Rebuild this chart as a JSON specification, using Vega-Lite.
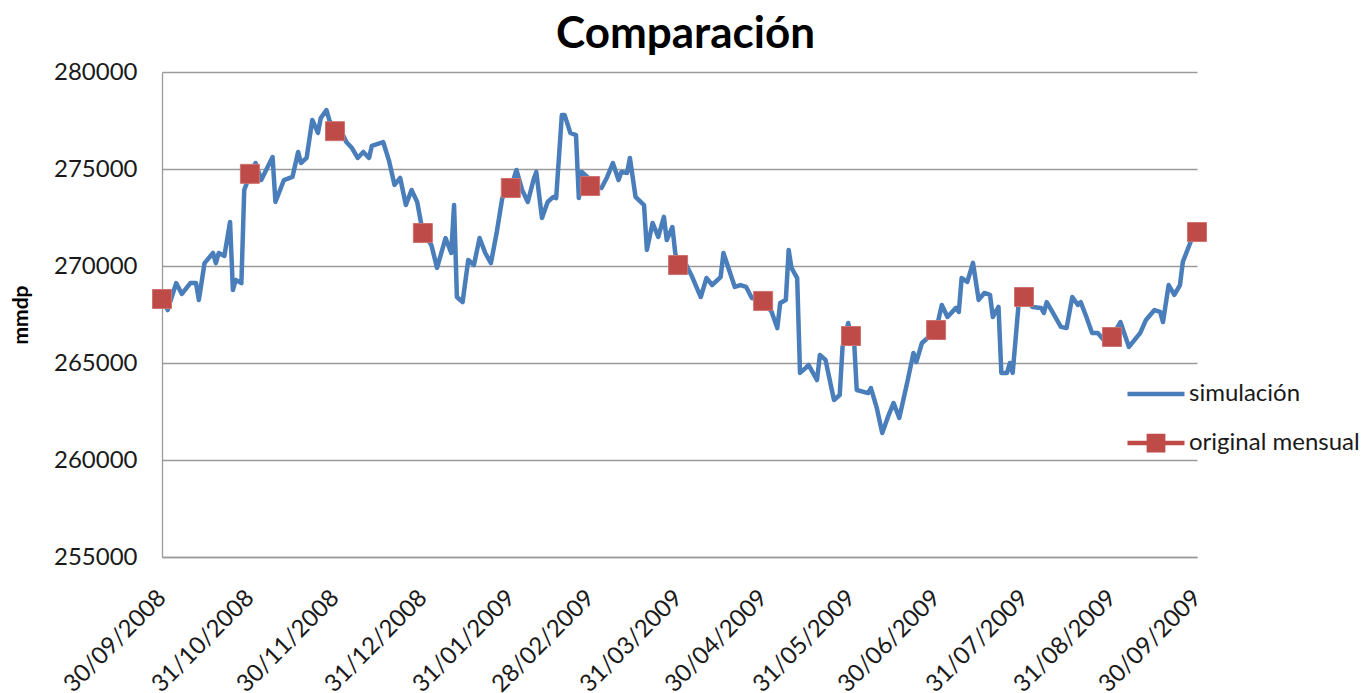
{
  "$schema": "https://vega.github.io/schema/vega-lite/v6.json",
  "width": 1035,
  "height": 485,
  "autosize": {"type": "none"},
  "padding": {"left": 162, "top": 72, "right": 169, "bottom": 136},
  "background": "white",
  "title": {"text": "Comparación", "font": "Lato", "fontSize": 44, "fontWeight": "bold", "color": "#000000", "anchor": "middle", "frame": "group", "offset": 3, "dx": 6},
  "config": {"view": {"stroke": null}, "font": "Lato"},
  "datasets": {
    "sim": [
      {"fecha": "2008-09-30", "valor": 268300},
      {"fecha": "2008-10-02", "valor": 267730},
      {"fecha": "2008-10-05", "valor": 269120},
      {"fecha": "2008-10-07", "valor": 268560},
      {"fecha": "2008-10-10", "valor": 269120},
      {"fecha": "2008-10-12", "valor": 269120},
      {"fecha": "2008-10-13", "valor": 268250},
      {"fecha": "2008-10-15", "valor": 270150},
      {"fecha": "2008-10-18", "valor": 270670},
      {"fecha": "2008-10-19", "valor": 270150},
      {"fecha": "2008-10-20", "valor": 270670},
      {"fecha": "2008-10-22", "valor": 270520},
      {"fecha": "2008-10-24", "valor": 272270},
      {"fecha": "2008-10-25", "valor": 268760},
      {"fecha": "2008-10-26", "valor": 269280},
      {"fecha": "2008-10-28", "valor": 269120},
      {"fecha": "2008-10-29", "valor": 273920},
      {"fecha": "2008-10-31", "valor": 274700},
      {"fecha": "2008-11-02", "valor": 275310},
      {"fecha": "2008-11-04", "valor": 274430},
      {"fecha": "2008-11-08", "valor": 275620},
      {"fecha": "2008-11-09", "valor": 273300},
      {"fecha": "2008-11-12", "valor": 274430},
      {"fecha": "2008-11-15", "valor": 274590},
      {"fecha": "2008-11-17", "valor": 275880},
      {"fecha": "2008-11-18", "valor": 275310},
      {"fecha": "2008-11-20", "valor": 275570},
      {"fecha": "2008-11-22", "valor": 277530},
      {"fecha": "2008-11-24", "valor": 276860},
      {"fecha": "2008-11-25", "valor": 277630},
      {"fecha": "2008-11-27", "valor": 278040},
      {"fecha": "2008-11-28", "valor": 277530},
      {"fecha": "2008-11-30", "valor": 276950},
      {"fecha": "2008-12-02", "valor": 277010},
      {"fecha": "2008-12-04", "valor": 276390},
      {"fecha": "2008-12-06", "valor": 276080},
      {"fecha": "2008-12-08", "valor": 275570},
      {"fecha": "2008-12-10", "valor": 275880},
      {"fecha": "2008-12-12", "valor": 275570},
      {"fecha": "2008-12-13", "valor": 276190},
      {"fecha": "2008-12-17", "valor": 276390},
      {"fecha": "2008-12-19", "valor": 275460},
      {"fecha": "2008-12-21", "valor": 274180},
      {"fecha": "2008-12-23", "valor": 274540},
      {"fecha": "2008-12-25", "valor": 273140},
      {"fecha": "2008-12-27", "valor": 273920},
      {"fecha": "2008-12-29", "valor": 273300},
      {"fecha": "2008-12-31", "valor": 271700},
      {"fecha": "2009-01-03", "valor": 271080},
      {"fecha": "2009-01-05", "valor": 269900},
      {"fecha": "2009-01-08", "valor": 271440},
      {"fecha": "2009-01-10", "valor": 270670},
      {"fecha": "2009-01-11", "valor": 273140},
      {"fecha": "2009-01-12", "valor": 268400},
      {"fecha": "2009-01-14", "valor": 268140},
      {"fecha": "2009-01-16", "valor": 270310},
      {"fecha": "2009-01-18", "valor": 270050},
      {"fecha": "2009-01-20", "valor": 271440},
      {"fecha": "2009-01-22", "valor": 270670},
      {"fecha": "2009-01-24", "valor": 270150},
      {"fecha": "2009-01-26", "valor": 271700},
      {"fecha": "2009-01-28", "valor": 273500},
      {"fecha": "2009-01-31", "valor": 274020},
      {"fecha": "2009-02-02", "valor": 274950},
      {"fecha": "2009-02-04", "valor": 273920},
      {"fecha": "2009-02-06", "valor": 273300},
      {"fecha": "2009-02-08", "valor": 274430},
      {"fecha": "2009-02-09", "valor": 274850},
      {"fecha": "2009-02-11", "valor": 272470},
      {"fecha": "2009-02-13", "valor": 273300},
      {"fecha": "2009-02-15", "valor": 273560},
      {"fecha": "2009-02-16", "valor": 273500},
      {"fecha": "2009-02-18", "valor": 277780},
      {"fecha": "2009-02-19", "valor": 277780},
      {"fecha": "2009-02-21", "valor": 276860},
      {"fecha": "2009-02-23", "valor": 276750},
      {"fecha": "2009-02-24", "valor": 273500},
      {"fecha": "2009-02-25", "valor": 274850},
      {"fecha": "2009-02-27", "valor": 274590},
      {"fecha": "2009-02-28", "valor": 274120},
      {"fecha": "2009-03-04", "valor": 274020},
      {"fecha": "2009-03-06", "valor": 274590},
      {"fecha": "2009-03-08", "valor": 275310},
      {"fecha": "2009-03-10", "valor": 274430},
      {"fecha": "2009-03-11", "valor": 274850},
      {"fecha": "2009-03-13", "valor": 274790},
      {"fecha": "2009-03-14", "valor": 275570},
      {"fecha": "2009-03-16", "valor": 273560},
      {"fecha": "2009-03-19", "valor": 273140},
      {"fecha": "2009-03-20", "valor": 270830},
      {"fecha": "2009-03-22", "valor": 272220},
      {"fecha": "2009-03-24", "valor": 271500},
      {"fecha": "2009-03-26", "valor": 272530},
      {"fecha": "2009-03-27", "valor": 271340},
      {"fecha": "2009-03-29", "valor": 272010},
      {"fecha": "2009-03-30", "valor": 270670},
      {"fecha": "2009-03-31", "valor": 270050},
      {"fecha": "2009-04-02", "valor": 270310},
      {"fecha": "2009-04-05", "valor": 269430},
      {"fecha": "2009-04-08", "valor": 268400},
      {"fecha": "2009-04-10", "valor": 269380},
      {"fecha": "2009-04-12", "valor": 269020},
      {"fecha": "2009-04-15", "valor": 269430},
      {"fecha": "2009-04-16", "valor": 270670},
      {"fecha": "2009-04-18", "valor": 269790},
      {"fecha": "2009-04-20", "valor": 268920},
      {"fecha": "2009-04-22", "valor": 269020},
      {"fecha": "2009-04-24", "valor": 268920},
      {"fecha": "2009-04-26", "valor": 268350},
      {"fecha": "2009-04-30", "valor": 268200},
      {"fecha": "2009-05-03", "valor": 267630},
      {"fecha": "2009-05-05", "valor": 266800},
      {"fecha": "2009-05-06", "valor": 268090},
      {"fecha": "2009-05-08", "valor": 268250},
      {"fecha": "2009-05-09", "valor": 270830},
      {"fecha": "2009-05-10", "valor": 269900},
      {"fecha": "2009-05-12", "valor": 269380},
      {"fecha": "2009-05-13", "valor": 264490},
      {"fecha": "2009-05-15", "valor": 264740},
      {"fecha": "2009-05-16", "valor": 264900},
      {"fecha": "2009-05-19", "valor": 264120},
      {"fecha": "2009-05-20", "valor": 265410},
      {"fecha": "2009-05-22", "valor": 265160},
      {"fecha": "2009-05-24", "valor": 263760},
      {"fecha": "2009-05-25", "valor": 263090},
      {"fecha": "2009-05-27", "valor": 263350},
      {"fecha": "2009-05-28", "valor": 265830},
      {"fecha": "2009-05-30", "valor": 267060},
      {"fecha": "2009-05-31", "valor": 266390},
      {"fecha": "2009-06-01", "valor": 266340},
      {"fecha": "2009-06-02", "valor": 263610},
      {"fecha": "2009-06-06", "valor": 263450},
      {"fecha": "2009-06-07", "valor": 263710},
      {"fecha": "2009-06-09", "valor": 262730},
      {"fecha": "2009-06-11", "valor": 261390},
      {"fecha": "2009-06-13", "valor": 262220},
      {"fecha": "2009-06-15", "valor": 262940},
      {"fecha": "2009-06-17", "valor": 262170},
      {"fecha": "2009-06-20", "valor": 264120},
      {"fecha": "2009-06-22", "valor": 265520},
      {"fecha": "2009-06-23", "valor": 265050},
      {"fecha": "2009-06-25", "valor": 266030},
      {"fecha": "2009-06-27", "valor": 266290},
      {"fecha": "2009-06-30", "valor": 266700},
      {"fecha": "2009-07-02", "valor": 267990},
      {"fecha": "2009-07-04", "valor": 267370},
      {"fecha": "2009-07-07", "valor": 267840},
      {"fecha": "2009-07-08", "valor": 267630},
      {"fecha": "2009-07-09", "valor": 269380},
      {"fecha": "2009-07-11", "valor": 269180},
      {"fecha": "2009-07-13", "valor": 270160},
      {"fecha": "2009-07-15", "valor": 268250},
      {"fecha": "2009-07-17", "valor": 268610},
      {"fecha": "2009-07-19", "valor": 268510},
      {"fecha": "2009-07-20", "valor": 267370},
      {"fecha": "2009-07-22", "valor": 267890},
      {"fecha": "2009-07-23", "valor": 264490},
      {"fecha": "2009-07-25", "valor": 264490},
      {"fecha": "2009-07-26", "valor": 265000},
      {"fecha": "2009-07-27", "valor": 264490},
      {"fecha": "2009-07-29", "valor": 267890},
      {"fecha": "2009-07-31", "valor": 268400},
      {"fecha": "2009-08-03", "valor": 267890},
      {"fecha": "2009-08-06", "valor": 267840},
      {"fecha": "2009-08-07", "valor": 267580},
      {"fecha": "2009-08-08", "valor": 268140},
      {"fecha": "2009-08-10", "valor": 267630},
      {"fecha": "2009-08-13", "valor": 266860},
      {"fecha": "2009-08-15", "valor": 266800},
      {"fecha": "2009-08-17", "valor": 268400},
      {"fecha": "2009-08-19", "valor": 267990},
      {"fecha": "2009-08-20", "valor": 268140},
      {"fecha": "2009-08-22", "valor": 267370},
      {"fecha": "2009-08-24", "valor": 266550},
      {"fecha": "2009-08-26", "valor": 266550},
      {"fecha": "2009-08-29", "valor": 266030},
      {"fecha": "2009-08-31", "valor": 266340},
      {"fecha": "2009-09-03", "valor": 267110},
      {"fecha": "2009-09-06", "valor": 265830},
      {"fecha": "2009-09-10", "valor": 266550},
      {"fecha": "2009-09-12", "valor": 267220},
      {"fecha": "2009-09-15", "valor": 267730},
      {"fecha": "2009-09-17", "valor": 267630},
      {"fecha": "2009-09-18", "valor": 267110},
      {"fecha": "2009-09-20", "valor": 269020},
      {"fecha": "2009-09-22", "valor": 268510},
      {"fecha": "2009-09-24", "valor": 269020},
      {"fecha": "2009-09-25", "valor": 270210},
      {"fecha": "2009-09-28", "valor": 271340},
      {"fecha": "2009-09-30", "valor": 271750}
    ],
    "orig": [
      {"fecha": "2008-09-30", "valor": 268300},
      {"fecha": "2008-10-31", "valor": 274750},
      {"fecha": "2008-11-30", "valor": 276950},
      {"fecha": "2008-12-31", "valor": 271700},
      {"fecha": "2009-01-31", "valor": 274020},
      {"fecha": "2009-02-28", "valor": 274120},
      {"fecha": "2009-03-31", "valor": 270050},
      {"fecha": "2009-04-30", "valor": 268200},
      {"fecha": "2009-05-31", "valor": 266390},
      {"fecha": "2009-06-30", "valor": 266700},
      {"fecha": "2009-07-31", "valor": 268400},
      {"fecha": "2009-08-31", "valor": 266340},
      {"fecha": "2009-09-30", "valor": 271750}
    ]
  },
  "encoding": {
    "x": {
      "field": "fecha",
      "type": "temporal",
      "scale": {"type": "utc", "domain": [{"year": 2008, "month": 9, "date": 30, "utc": true}, {"year": 2009, "month": 9, "date": 30, "utc": true}], "nice": false},
      "axis": {
        "title": null,
        "values": [
          {"year": 2008, "month": 9, "date": 30, "utc": true},
          {"year": 2008, "month": 10, "date": 31, "utc": true},
          {"year": 2008, "month": 11, "date": 30, "utc": true},
          {"year": 2008, "month": 12, "date": 31, "utc": true},
          {"year": 2009, "month": 1, "date": 31, "utc": true},
          {"year": 2009, "month": 2, "date": 28, "utc": true},
          {"year": 2009, "month": 3, "date": 31, "utc": true},
          {"year": 2009, "month": 4, "date": 30, "utc": true},
          {"year": 2009, "month": 5, "date": 31, "utc": true},
          {"year": 2009, "month": 6, "date": 30, "utc": true},
          {"year": 2009, "month": 7, "date": 31, "utc": true},
          {"year": 2009, "month": 8, "date": 31, "utc": true},
          {"year": 2009, "month": 9, "date": 30, "utc": true}
        ],
        "labelExpr": "utcFormat(datum.value, '%d/%m/%Y')",
        "labelAngle": -45,
        "labelAlign": "right",
        "labelBaseline": "middle",
        "labelFont": "Lato",
        "labelFontSize": 24,
        "labelColor": "#1a1a1a",
        "labelPadding": 37,
        "labelOverlap": false,
        "labelFlush": false,
        "labelBound": false,
        "tickSize": 0,
        "ticks": false,
        "grid": false,
        "domainColor": "#9a9a9a",
        "domainWidth": 1.3
      }
    },
    "y": {
      "field": "valor",
      "type": "quantitative",
      "scale": {"domain": [255000, 280000], "nice": false, "zero": false},
      "axis": {
        "title": "mmdp",
        "titleFont": "Lato",
        "titleFontSize": 21,
        "titleFontWeight": "bold",
        "titleColor": "#000000",
        "titlePadding": 22,
        "values": [255000, 260000, 265000, 270000, 275000, 280000],
        "format": "d",
        "labelFont": "Lato",
        "labelFontSize": 24,
        "labelColor": "#1a1a1a",
        "labelPadding": 25,
        "tickSize": 0,
        "ticks": false,
        "grid": true,
        "gridColor": "#9a9a9a",
        "gridWidth": 1.3,
        "domainColor": "#9a9a9a",
        "domainWidth": 1.3
      }
    }
  },
  "layer": [
    {
      "data": {"name": "sim"},
      "mark": {"type": "line", "strokeWidth": 4.5, "strokeJoin": "round", "strokeCap": "round"},
      "encoding": {
        "color": {
          "datum": "simulación",
          "type": "nominal",
          "scale": {"domain": ["simulación", "original mensual"], "range": ["#4A7EBB", "#BE4B48"]},
          "legend": {
            "title": null,
            "orient": "none",
            "legendX": 963,
            "legendY": 291,
            "direction": "vertical",
            "padding": 0,
            "symbolSize": 3249,
            "symbolStrokeWidth": 4.5,
            "labelFont": "Lato",
            "labelFontSize": 24,
            "labelColor": "#1a1a1a",
            "labelOffset": 2,
            "labelLimit": 0,
            "rowPadding": 6,
            "encode": {
              "symbols": {
                "update": {
                  "shape": {"signal": "datum.value === 'simulación' ? 'stroke' : 'M-1,0H1M-0.25,-0.25H0.25V0.25H-0.25Z'"},
                  "stroke": {"signal": "datum.value === 'simulación' ? '#4A7EBB' : '#BE4B48'"},
                  "fill": {"signal": "datum.value === 'simulación' ? 'transparent' : '#BE4B48'"},
                  "strokeWidth": {"value": 4.5},
                  "opacity": {"value": 1}
                }
              }
            }
          }
        }
      }
    },
    {
      "data": {"name": "orig"},
      "mark": {"type": "point", "shape": "square", "filled": true, "size": 361, "opacity": 1, "stroke": "#CD7371", "strokeWidth": 1},
      "encoding": {
        "color": {"datum": "original mensual", "type": "nominal"}
      }
    }
  ]
}
